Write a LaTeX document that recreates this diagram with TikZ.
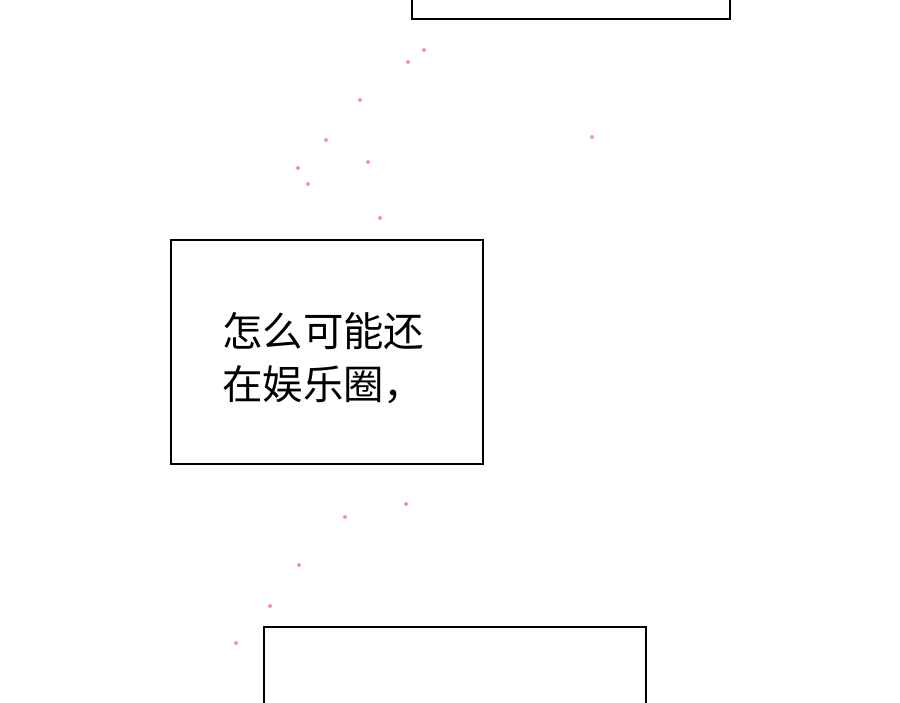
\documentclass[tikz,border=0pt]{standalone}
\usepackage{fontspec}
\newfontfamily\cjk{Noto Sans CJK SC}
\definecolor{petal}{RGB}{240,150,160}
\tikzstyle{panel}=[draw=black, line width=1.6pt, fill=white]
\tikzstyle{speech}=[anchor=north west, align=left, inner sep=0pt, font=\cjk\fontsize{23pt}{30pt}\selectfont]
\tikzstyle{dot}=[fill=petal, draw=none]
\begin{document}
\begin{tikzpicture}[x=0.02cm, y=-0.02cm]
	\useasboundingbox (0, 0) rectangle (900, 703);
	% petals
	\foreach \px/\py in {424/50, 408/62, 360/100, 592/137, 368/162, 298/168, 308/184, 380/218, 326/140, 270/606, 299/565, 345/517, 406/504, 236/643}
		\fill [style=dot] (\px, \py) circle (2);
	% panels
	\draw [style=panel] (412, -5) rectangle (730, 19);
	\draw [style=panel] (171, 240) rectangle (483, 464);
	\draw [style=panel] (264, 627) rectangle (646, 710);
	\node [style=speech] (line) at (222, 312) {怎么可能还\\在娱乐圈，};
\end{tikzpicture}
\end{document}
